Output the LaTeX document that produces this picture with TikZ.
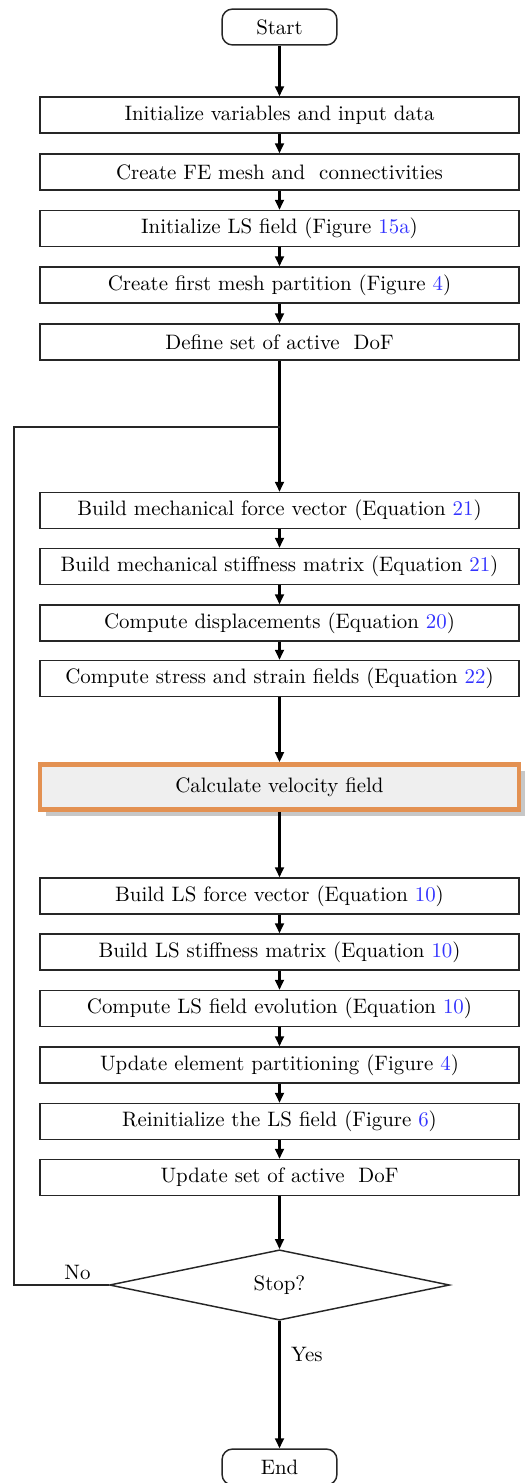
\documentclass[tikz,border=0pt]{standalone}
\usetikzlibrary{shapes.geometric,arrows.meta,shadows}

\definecolor{refblue}{RGB}{51,51,255}
\definecolor{accent}{RGB}{227,145,82}
\definecolor{panel}{RGB}{239,239,239}
\newcommand{\refn}[1]{\textcolor{refblue}{#1}}

\begin{document}
\begin{tikzpicture}[x=0.479pt,y=-0.479pt,
  stepbox/.style={draw=black!85, line width=0.7pt, minimum width=229.4pt,
    minimum height=17.2pt, inner sep=0pt},
  terminal/.style={draw=black!85, line width=0.7pt, rounded corners=5pt,
    minimum width=55pt, minimum height=17.2pt, inner sep=0pt},
  focusbox/.style={stepbox, draw=accent, line width=2.2pt, fill=panel,
    minimum height=21.6pt,
    drop shadow={shadow xshift=3pt, shadow yshift=-3pt, fill=black!22, opacity=1}},
  decision/.style={draw=black!85, line width=0.7pt, diamond,
    minimum width=162.9pt, minimum height=31.6pt, inner sep=0pt},
  flow/.style={-{Triangle[length=4.8pt,width=4.2pt]}, line width=1.1pt},
  backline/.style={line width=0.7pt, draw=black!85},
  lbl/.style={inner sep=2pt}
]
\useasboundingbox (0,0) rectangle (529,1483);

% initialisation
\node[terminal] (start) at (279.5,27) {Start};
\node[stepbox] (b1) at (279.5,115) {Initialize variables and input data};
\node[stepbox] (b2) at (279.5,172) {Create FE mesh and\ \ connectivities};
\node[stepbox] (b3) at (279.5,228.5) {Initialize LS field (Figure \refn{15a})};
\node[stepbox] (b4) at (279.5,285) {Create first mesh partition (Figure \refn{4})};
\node[stepbox] (b5) at (279.5,342) {Define set of active\ \ DoF};

% mechanical problem
\node[stepbox] (b6) at (279.5,510.5) {Build mechanical force vector (Equation \refn{21})};
\node[stepbox] (b7) at (279.5,566.5) {Build mechanical stiffness matrix (Equation \refn{21})};
\node[stepbox] (b8) at (279.5,623) {Compute displacements (Equation \refn{20})};
\node[stepbox] (b9) at (279.5,678.5) {Compute stress and strain fields (Equation \refn{22})};

% velocity
\node[focusbox] (vel) at (279.5,787) {Calculate velocity field};

% level set update
\node[stepbox] (b10) at (279.5,896) {Build LS force vector (Equation \refn{10})};
\node[stepbox] (b11) at (279.5,952) {Build LS stiffness matrix (Equation \refn{10})};
\node[stepbox] (b12) at (279.5,1008.5) {Compute LS field evolution (Equation \refn{10})};
\node[stepbox] (b13) at (279.5,1065) {Update element partitioning (Figure \refn{4})};
\node[stepbox] (b14) at (279.5,1121.5) {Reinitialize the LS field (Figure \refn{6})};
\node[stepbox] (b15) at (279.5,1177.5) {Update set of active\ \ DoF};

\node[decision] (dec) at (279.5,1285) {Stop?};
\node[terminal] (end) at (279.5,1467) {End};

% loop return path
\coordinate (lc) at (14,1285);
\coordinate (lt) at (14,427);
\coordinate (jn) at (279.5,427);

% connectors
\draw[flow] (start) -- (b1);
\draw[flow] (b1) -- (b2);
\draw[flow] (b2) -- (b3);
\draw[flow] (b3) -- (b4);
\draw[flow] (b4) -- (b5);
\draw[flow] (b5) -- (b6);
\draw[flow] (b6) -- (b7);
\draw[flow] (b7) -- (b8);
\draw[flow] (b8) -- (b9);
\draw[flow] (b9) -- (vel);
\draw[flow] (vel) -- (b10);
\draw[flow] (b10) -- (b11);
\draw[flow] (b11) -- (b12);
\draw[flow] (b12) -- (b13);
\draw[flow] (b13) -- (b14);
\draw[flow] (b14) -- (b15);
\draw[flow] (b15) -- (dec);
\draw[flow] (dec) -- node[lbl, right, pos=0.26, xshift=3pt] {Yes} (end);
\draw[backline] (dec.west) -- node[lbl, above, pos=0.33] {No} (lc) -- (lt) -- (jn);
\end{tikzpicture}
\end{document}
